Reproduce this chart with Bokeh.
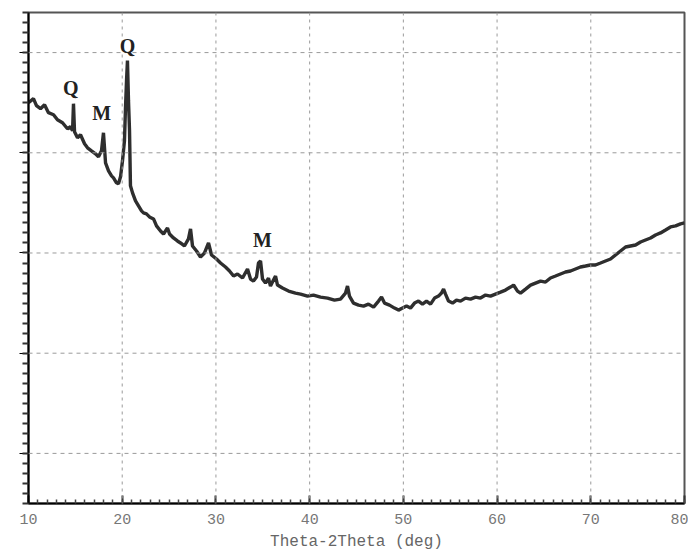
from bokeh.plotting import figure
from bokeh.models import Range1d, FixedTicker, SingleIntervalTicker, Label, BoxAnnotation, Span
from bokeh.embed import file_html
from bokeh.resources import INLINE

two_theta = [10.0, 10.53, 10.85, 11.28, 11.71, 12.13, 12.67, 13.09, 13.63, 14.16, 14.48, 14.70, 14.80, 14.91,
             15.23, 15.55, 15.98, 16.30, 16.72, 17.15, 17.47, 17.79, 18.00, 18.22, 18.54, 18.86, 19.07, 19.39,
             19.60, 19.82, 20.03, 20.24, 20.35, 20.46, 20.56, 20.67, 20.78, 20.88, 21.10, 21.42, 21.74, 22.06,
             22.27, 22.59, 22.91, 23.34, 23.66, 24.09, 24.41, 24.83, 25.05, 25.47, 25.89, 26.22, 26.64, 27.07,
             27.29, 27.50, 27.93, 28.35, 28.78, 29.21, 29.53, 30.06, 30.49, 31.02, 31.45, 31.88, 32.30, 32.84,
             33.37, 33.69, 34.01, 34.33, 34.54, 34.76, 34.97, 35.29, 35.61, 35.82, 36.14, 36.36, 36.57, 37.10,
             37.75, 38.49, 39.03, 39.77, 40.41, 41.16, 41.91, 42.65, 43.29, 43.83, 44.04, 44.25, 44.68, 45.22,
             45.75, 46.28, 46.82, 47.35, 47.67, 47.99, 48.52, 49.06, 49.48, 49.91, 50.34, 50.76, 51.19, 51.62,
             52.04, 52.47, 52.90, 53.33, 53.75, 54.07, 54.29, 54.50, 54.82, 55.25, 55.67, 56.10, 56.63, 57.17,
             57.70, 58.23, 58.77, 59.30, 59.83, 60.37, 60.90, 61.43, 61.76, 62.18, 62.50, 63.04, 63.57, 64.10,
             64.64, 65.17, 65.70, 66.24, 66.77, 67.30, 67.84, 68.37, 68.90, 69.44, 69.97, 70.50, 71.04, 71.57,
             72.11, 72.64, 73.17, 73.71, 74.24, 74.78, 75.31, 75.84, 76.38, 76.91, 77.44, 77.98, 78.51, 79.05,
             79.58, 80.0]
intensity = [800, 808, 794, 788, 796, 780, 776, 766, 760, 748, 752, 744, 798, 742,
             730, 736, 718, 710, 704, 698, 692, 704, 740, 680, 664, 654, 650, 640,
             638, 652, 684, 724, 790, 844, 884, 804, 744, 634, 620, 604, 594, 584,
             580, 578, 572, 568, 554, 544, 538, 550, 538, 530, 524, 520, 514, 528,
             548, 514, 504, 492, 500, 520, 496, 488, 480, 472, 464, 454, 458, 450,
             468, 448, 444, 452, 480, 484, 448, 440, 450, 434, 446, 454, 436, 430,
             424, 420, 418, 414, 416, 412, 410, 406, 408, 420, 434, 414, 400, 396,
             394, 398, 392, 404, 412, 400, 396, 390, 386, 390, 394, 390, 400, 404,
             398, 404, 398, 410, 414, 420, 428, 418, 404, 400, 406, 404, 410, 408,
             412, 410, 416, 414, 418, 422, 426, 432, 436, 424, 420, 428, 436, 440,
             444, 442, 450, 454, 458, 462, 464, 468, 472, 474, 476, 476, 480, 484,
             488, 496, 504, 512, 514, 516, 522, 526, 530, 536, 540, 546, 552, 554,
             558, 560]

peak_labels = ["Q", "M", "Q", "M"]
peak_x = [14.5, 17.8, 20.56, 34.97]
peak_y = [830, 780, 914, 525]

x_grid_ticks = [20, 30, 40, 50, 60, 70]
y_grid_ticks = [100, 300, 500, 700, 900]

p = figure(width=688, height=553, output_backend="svg", toolbar_location=None,
           x_range=Range1d(10, 80), y_range=Range1d(0, 980),
           min_border_left=28, min_border_right=4, min_border_top=12, min_border_bottom=50)
p.outline_line_color = "#555555"
p.outline_line_width = 2
p.xgrid.grid_line_color = None
p.ygrid.grid_line_color = None

p.line(two_theta, intensity, line_color="#2e2e2e", line_width=3.4)

for gx in x_grid_ticks:
    p.add_layout(Span(location=gx, dimension="height", line_color="#9a9a9a",
                      line_dash="3 4", line_width=1))
for gy in y_grid_ticks:
    p.add_layout(Span(location=gy, dimension="width", line_color="#9a9a9a",
                      line_dash="4 4", line_width=1))

p.add_layout(BoxAnnotation(left=11.5, right=687, top=3.5, bottom=549.5,
                           left_units="canvas", right_units="canvas",
                           top_units="canvas", bottom_units="canvas",
                           fill_alpha=0, line_color="#444444", line_width=1, level="overlay"))

for t, xx, yy in zip(peak_labels, peak_x, peak_y):
    p.add_layout(Label(x=xx, y=yy, text=t, text_font="Liberation Serif", text_font_style="bold",
                       text_font_size="20px", text_color="#222222", text_align="center",
                       text_baseline="middle"))

p.xaxis.ticker = SingleIntervalTicker(interval=10, num_minor_ticks=10)
p.xaxis.axis_line_width = 2
p.xaxis.major_tick_in = 8
p.xaxis.major_tick_out = 0
p.xaxis.minor_tick_in = 4
p.xaxis.minor_tick_out = 0
p.xaxis.major_tick_line_color = "#333333"
p.xaxis.minor_tick_line_color = "#444444"
p.xaxis.major_tick_line_width = 2
p.xaxis.minor_tick_line_width = 1.5
p.xaxis.major_label_text_font = "Liberation Mono"
p.xaxis.major_label_text_font_size = "15px"
p.xaxis.major_label_text_color = "#777777"
p.xaxis.major_label_standoff = 10
p.xaxis.axis_label = "Theta-2Theta (deg)"
p.xaxis.axis_label_text_font = "Liberation Mono"
p.xaxis.axis_label_text_font_style = "normal"
p.xaxis.axis_label_text_font_size = "16px"
p.xaxis.axis_label_text_color = "#666666"
p.xaxis.axis_label_standoff = 6

p.yaxis.ticker = FixedTicker(ticks=y_grid_ticks, minor_ticks=list(range(0, 981, 20)))
p.yaxis.axis_line_width = 2
p.yaxis.major_tick_in = 0
p.yaxis.major_tick_out = 9
p.yaxis.minor_tick_in = 0
p.yaxis.minor_tick_out = 6
p.yaxis.minor_tick_line_color = "#333333"
p.yaxis.minor_tick_line_width = 2
p.yaxis.major_label_overrides = {t: "" for t in y_grid_ticks}
p.yaxis.major_label_standoff = 0

open("out.html", "w").write(file_html(p, INLINE))
